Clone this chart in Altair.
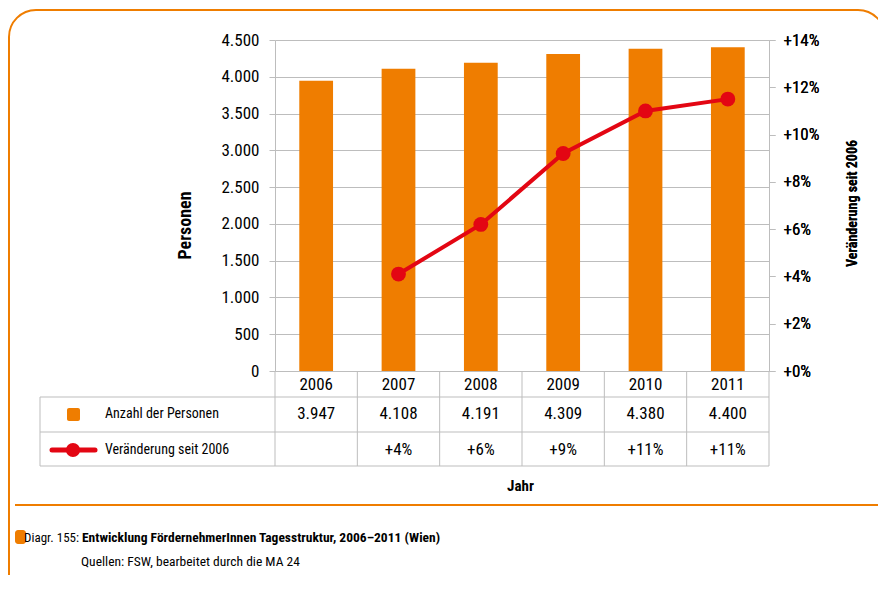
import altair as alt
import pandas as pd

years = ["2006", "2007", "2008", "2009", "2010", "2011"]
persons = [3947, 4108, 4191, 4309, 4380, 4400]
person_labels = ["3.947", "4.108", "4.191", "4.309", "4.380", "4.400"]
change_years = ["2007", "2008", "2009", "2010", "2011"]
change_pct = [4.1, 6.2, 9.2, 11.0, 11.5]
change_labels = ["+4%", "+6%", "+9%", "+11%", "+11%"]
left_ticks = [0, 500, 1000, 1500, 2000, 2500, 3000, 3500, 4000, 4500]
right_ticks = [0, 2, 4, 6, 8, 10, 12, 14]

W, H = 494, 331
FONT = "Roboto Condensed, Liberation Sans Narrow, DejaVu Sans Condensed, sans-serif"
ORANGE = "#ef7d00"
RED = "#e30613"
GRAY = "#bdbdbd"
FN = 17    # numbers
FT = 14    # row labels
FC = 13.5  # caption

bars_df = pd.DataFrame({"Jahr": years, "Personen": persons, "label": person_labels})
line_df = pd.DataFrame({"Jahr": change_years, "pct": change_pct, "label": change_labels})
one = pd.DataFrame({"k": [0]})

x_scale = alt.Scale(domain=years, paddingInner=0, paddingOuter=0)
x_axis = alt.Axis(orient="bottom", domain=True, domainColor=GRAY, ticks=False, tickSize=0,
                  labelAngle=0, labelFontSize=FN, labelColor="black", labelPadding=13,
                  labelBaseline="middle", title="Jahr", titleX=245, titleY=114, titleFontSize=15,
                  titleFontWeight="bold", titleBaseline="middle", titleColor="black")


def xenc(**kw):
    return alt.X("Jahr:N", scale=x_scale, sort=years, axis=x_axis, **kw)


pct_scale = alt.Scale(domain=[0, 14], nice=False)
pct_axis = alt.Axis(orient="right", values=right_ticks, grid=False,
                    domainColor=GRAY, tickColor=GRAY, tickSize=6, labelPadding=8,
                    labelFontSize=FN, labelColor="black",
                    labelExpr="'+' + datum.value + '%'",
                    title="Veränderung seit 2006", titleAngle=270, titleX=83, titleY=163,
                    titleAlign="center", titleBaseline="middle", titleFontSize=14,
                    titleFontWeight="bold", titleColor="black")

bars = alt.Chart(bars_df).mark_bar(color=ORANGE, width=alt.RelativeBandSize(0.41)).encode(
    x=xenc(),
    y=alt.Y("Personen:Q", scale=alt.Scale(domain=[0, 4500], nice=False),
            axis=alt.Axis(orient="left", values=left_ticks, grid=True, gridColor=GRAY,
                          domainColor=GRAY, tickColor=GRAY, tickSize=6, labelPadding=10,
                          labelFontSize=FN, labelColor="black",
                          labelExpr="replace(format(datum.value, ','), ',', '.')",
                          title="Personen", titleAngle=270, titleX=-90, titleY=185,
                          titleAlign="center", titleBaseline="middle", titleFontSize=18,
                          titleFontWeight="bold", titleColor="black")),
)

line = alt.Chart(line_df).mark_line(color=RED, strokeWidth=4).encode(
    x=xenc(), y=alt.Y("pct:Q", scale=pct_scale, axis=pct_axis))
points = alt.Chart(line_df).mark_circle(color=RED, size=220, opacity=1).encode(
    x=xenc(), y=alt.Y("pct:Q", scale=pct_scale, axis=pct_axis))

tab_persons = alt.Chart(bars_df).mark_text(fontSize=FN, baseline="middle", color="black").encode(
    x=xenc(), y=alt.value(374), text="label:N")
tab_pct = alt.Chart(line_df).mark_text(fontSize=FN, baseline="middle", color="black").encode(
    x=xenc(), y=alt.value(410), text="label:N")


def txt(s, x, y, size=FT, weight="normal", align="left"):
    return alt.Chart(one).mark_text(text=s, fontSize=size, fontWeight=weight, align=align,
                                    baseline="middle", color="black").encode(
        x=alt.value(x), y=alt.value(y))


def hrule(y, x1, x2, color=GRAY, sw=1):
    return alt.Chart(one).mark_rule(color=color, strokeWidth=sw).encode(
        x=alt.value(x1), x2=alt.value(x2), y=alt.value(y))


def vrule(x, y1, y2, color=GRAY, sw=1):
    return alt.Chart(one).mark_rule(color=color, strokeWidth=sw).encode(
        x=alt.value(x), y=alt.value(y1), y2=alt.value(y2))


col_lines = alt.Chart(bars_df).mark_rule(color=GRAY, strokeWidth=1).encode(
    x=xenc(bandPosition=0), y=alt.value(331), y2=alt.value(426))

legend_sq = alt.Chart(one).mark_rect(color=ORANGE, cornerRadius=2).encode(
    x=alt.value(-208), x2=alt.value(-195), y=alt.value(368), y2=alt.value(381))
legend_line = alt.Chart(one).mark_rule(color=RED, strokeWidth=5, strokeCap="round").encode(
    x=alt.value(-223), x2=alt.value(-180), y=alt.value(410))
legend_pt = alt.Chart(one).mark_circle(color=RED, size=200, opacity=1).encode(
    x=alt.value(-202), y=alt.value(410))

cap_sq = alt.Chart(one).mark_rect(color=ORANGE, cornerRadius=3).encode(
    x=alt.value(-260), x2=alt.value(-249), y=alt.value(490), y2=alt.value(504))

border = alt.Chart(one).mark_rect(filled=False, stroke=ORANGE, strokeWidth=2, cornerRadius=27).encode(
    x=alt.value(-266), x2=alt.value(610), y=alt.value(-30), y2=alt.value(570))

chart = alt.layer(
    border,
    bars, line, points,
    hrule(357, -235, W), hrule(392, -235, W), hrule(426, -235, W),
    col_lines, vrule(W, 331, 426), vrule(-235, 357, 426),
    tab_persons, tab_pct,
    txt("Anzahl der Personen", -170, 374), txt("Veränderung seit 2006", -170, 410),
    legend_sq, legend_line, legend_pt,
    hrule(465, -260, 620, color=ORANGE, sw=2),
    cap_sq,
    txt("Diagr. 155:", -196, 498, size=13, align="right"),
    txt("Entwicklung FördernehmerInnen Tagesstruktur, 2006–2011 (Wien)", -193, 498, size=FC, weight="bold"),
    txt("Quellen: FSW, bearbeitet durch die MA 24", -194, 522, size=FC),
).resolve_scale(y="independent").properties(
    width=W, height=H,
    padding={"left": 267, "top": 32, "right": 109, "bottom": 204},
    autosize=alt.AutoSizeParams(type="none"),
).configure(font=FONT).configure_view(stroke=None).configure_axis(labelFont=FONT, titleFont=FONT)

chart.save("out.html", embed_options={"renderer": "svg", "actions": False})
